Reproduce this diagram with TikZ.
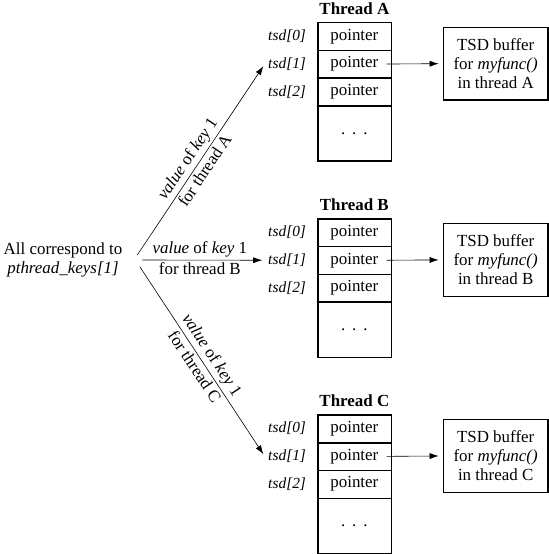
\documentclass[tikz,border=0pt]{standalone}
\usepackage{fontspec}
\setmainfont{Liberation Serif}
\usepackage{tikz}
\usetikzlibrary{arrows.meta,calc,positioning}
\tikzset{%
	cell/.style     = {draw, thin, rectangle, minimum width=73.3bp, minimum height=27.3bp, inner sep=0pt, text centered},
	frame/.style    = {line width=1.3bp},
	tsdlabel/.style = {font=\fontsize{15.5}{18}\selectfont\itshape, inner sep=3.3bp},
	title/.style    = {font=\fontsize{17}{19}\selectfont\bfseries},
	buffer/.style   = {draw, line width=1.3bp, rectangle, minimum width=104.7bp, minimum height=72.7bp, align=center, inner sep=0pt, font=\fontsize{17}{19.2}\selectfont},
	arrow/.style    = {line width=0.6bp, -{Latex[length=9bp,width=6bp]}},
	keylabel/.style = {font=\fontsize{17}{19}\selectfont, inner sep=2.5bp},
}
\newcommand{\valkey}{\textit{value} of \textit{key} 1}

\begin{document}
\begin{tikzpicture}[x=1bp,y=-1bp,font=\fontsize{17}{19.3}\selectfont]
		\useasboundingbox (0,0) rectangle (549,554);
		
		% one block per thread
		\foreach \t/\y in {A/0,B/196.2,C/392.3} {
			\node[title] (title\t) at (354.35,8.3+\y) {Thread \t};
			\node[cell] (ptr\t0) at (354.35,36.35+\y) {pointer};
			\node[cell, below=0pt of ptr\t0] (ptr\t1) {pointer};
			\node[cell, below=0pt of ptr\t1] (ptr\t2) {pointer};
			\node[cell, minimum height=55bp, below=0pt of ptr\t2] (dots\t) {.\hspace{7bp}.\hspace{7bp}.};
			\draw[frame] (ptr\t0.north west) rectangle (dots\t.south east);
			
			\node[tsdlabel, left=8bp of ptr\t0] (tsd\t0) {tsd[0]};
			\node[tsdlabel, left=8bp of ptr\t1] (tsd\t1) {tsd[1]};
			\node[tsdlabel, left=8bp of ptr\t2] (tsd\t2) {tsd[2]};
			
			\node[buffer] (buf\t) at (495.65,63.65+\y) {TSD buffer\\for \textit{myfunc()}\\in thread \t};
			\draw[arrow, shorten >=4bp] ([xshift=-4.5bp]ptr\t1.east) -- (buf\t.west);
		}
		
		% the key
		\node[align=center] (keys) at (63,260) {All correspond to\\\textit{pthread\_keys[1]}};
		
		\draw[arrow, shorten >=2.5bp] ([xshift=11.5bp,yshift=5bp]keys.east) -- (tsdA1.west)
			node[keylabel, pos=0.47, sloped, above] {\valkey}
			node[keylabel, pos=0.47, sloped, below] {for thread A};
		\draw[arrow, shorten >=2.5bp] ([xshift=16.5bp]keys.east) -- (tsdB1.west)
			node[keylabel, pos=0.47, above] {\valkey}
			node[keylabel, pos=0.47, below] {for thread B};
		\draw[arrow, shorten >=2.5bp] ([xshift=14bp,yshift=-6.7bp]keys.east) -- (tsdC1.west)
			node[keylabel, pos=0.5, sloped, above] {\valkey}
			node[keylabel, pos=0.5, sloped, below] {for thread C};
		
\end{tikzpicture}
\end{document}
